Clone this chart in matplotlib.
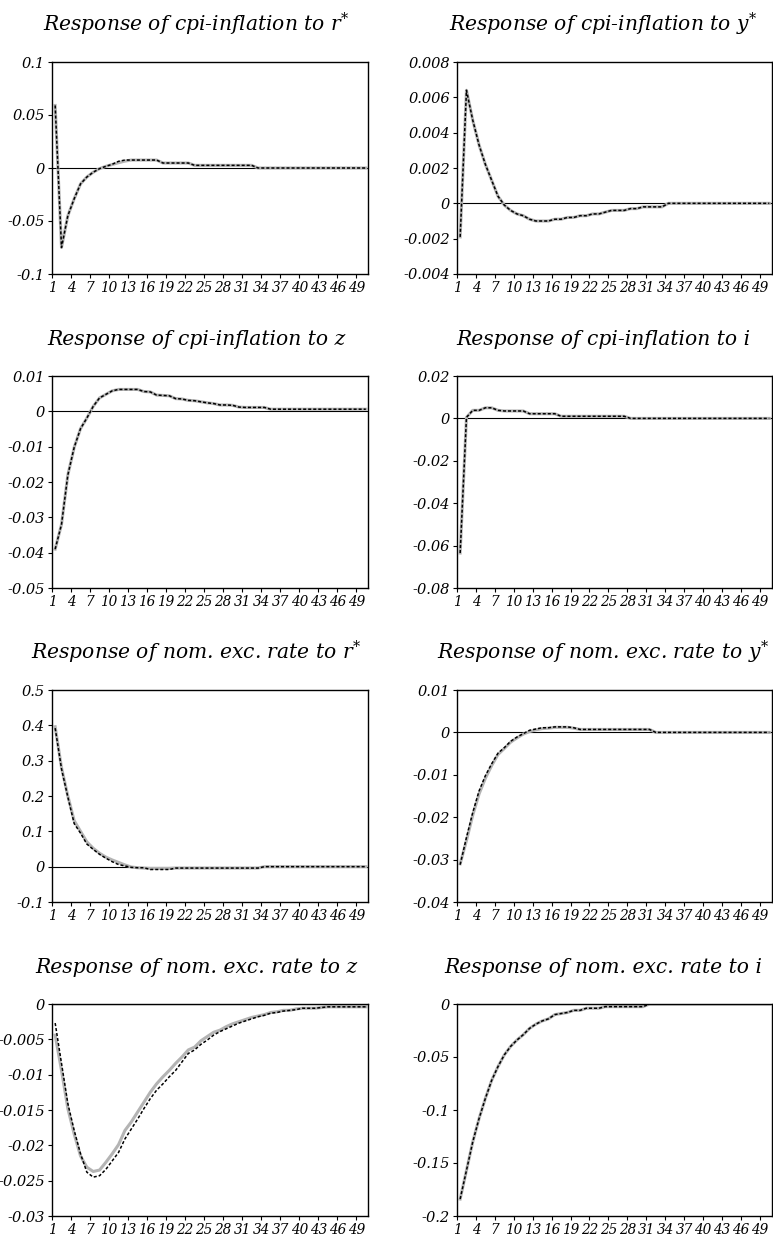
import numpy as np
import matplotlib
matplotlib.use("Agg")
import matplotlib.pyplot as plt

plt.rcParams['font.family'] = ['DejaVu Serif']
plt.rcParams['font.style'] = 'italic'
plt.rcParams['mathtext.fontset'] = 'dejavuserif'
plt.rcParams['axes.unicode_minus'] = False

# horizonte das respostas (50 periodos)
periods = list(range(1, 51))
xtick_labels = [str(p) for p in periods[::3]]

titles = [
    "Response of cpi-inflation to $r^{*}$",
    "Response of cpi-inflation to $y^{*}$",
    "Response of cpi-inflation to z",
    "Response of cpi-inflation to i",
    "Response of nom. exc. rate to $r^{*}$",
    "Response of nom. exc. rate to $y^{*}$",
    "Response of nom. exc. rate to z",
    "Response of nom. exc. rate to i",
]

# cpi-inflation
cpi_rstar = [0.059, -0.075, -0.045, -0.029, -0.015, -0.0085, -0.004, -0.0006, 0.0016, 0.0035,
             0.0063, 0.0075, 0.0075, 0.0075, 0.0075, 0.0075, 0.0075, 0.0047, 0.0047, 0.0047,
             0.0047, 0.0047, 0.0025, 0.0025, 0.0025, 0.0025, 0.0025, 0.0025, 0.0025, 0.0025,
             0.0025, 0.0025, 0.0, 0.0, 0.0, 0.0, 0.0, 0.0, 0.0, 0.0,
             0.0, 0.0, 0.0, 0.0, 0.0, 0.0, 0.0, 0.0, 0.0, 0.0]
cpi_rstar_gray = [0.059, -0.075, -0.045, -0.029, -0.015, -0.0085, -0.004, -0.0006, 0.0016, 0.0033,
                  0.005, 0.0065, 0.0075, 0.0075, 0.0075, 0.0075, 0.0075, 0.0047, 0.0047, 0.0047,
                  0.0047, 0.0047, 0.0025, 0.0025, 0.0025, 0.0025, 0.0025, 0.0025, 0.0025, 0.0025,
                  0.0025, 0.0025, 0.0, 0.0, 0.0, 0.0, 0.0, 0.0, 0.0, 0.0,
                  0.0, 0.0, 0.0, 0.0, 0.0, 0.0, 0.0, 0.0, 0.0, 0.0]
cpi_ystar = [-0.0019, 0.0064, 0.0047, 0.0033, 0.0022, 0.0013, 0.0004, -0.0001, -0.0004, -0.0006,
             -0.0007, -0.0009, -0.0010, -0.0010, -0.0010, -0.0009, -0.0009, -0.0008, -0.0008, -0.0007,
             -0.0007, -0.0006, -0.0006, -0.0005, -0.0004, -0.0004, -0.0004, -0.0003, -0.0003, -0.0002,
             -0.0002, -0.0002, -0.0002, 0.0, 0.0, 0.0, 0.0, 0.0, 0.0, 0.0,
             0.0, 0.0, 0.0, 0.0, 0.0, 0.0, 0.0, 0.0, 0.0, 0.0]
cpi_z = [-0.039, -0.032, -0.018, -0.0102, -0.0049, -0.0019, 0.0014, 0.0038, 0.0048, 0.0058,
         0.0062, 0.0062, 0.0062, 0.0062, 0.0056, 0.0055, 0.0046, 0.0045, 0.0044, 0.0036,
         0.0035, 0.0031, 0.0030, 0.0027, 0.0024, 0.0022, 0.0018, 0.0018, 0.0017, 0.0012,
         0.0011, 0.0011, 0.0011, 0.0011, 0.0006, 0.0006, 0.0006, 0.0006, 0.0006, 0.0006,
         0.0006, 0.0006, 0.0006, 0.0006, 0.0006, 0.0006, 0.0006, 0.0006, 0.0006, 0.0006]
cpi_i = [-0.0635, 0.0005, 0.0038, 0.0038, 0.005, 0.005, 0.0038, 0.0035, 0.0035, 0.0035,
         0.0035, 0.0022, 0.0022, 0.0022, 0.0022, 0.0022, 0.001, 0.001, 0.001, 0.001,
         0.001, 0.001, 0.001, 0.001, 0.001, 0.001, 0.001, 0.0, 0.0, 0.0,
         0.0, 0.0, 0.0, 0.0, 0.0, 0.0, 0.0, 0.0, 0.0, 0.0,
         0.0, 0.0, 0.0, 0.0, 0.0, 0.0, 0.0, 0.0, 0.0, 0.0]

# taxa de cambio nominal
exr_rstar = [0.392, 0.277, 0.197, 0.122, 0.095, 0.064, 0.049, 0.035, 0.024, 0.014,
             0.006, 0.002, -0.002, -0.003, -0.003, -0.008, -0.008, -0.008, -0.008, -0.004,
             -0.004, -0.004, -0.004, -0.004, -0.004, -0.004, -0.004, -0.004, -0.004, -0.004,
             -0.004, -0.004, -0.004, 0.0, 0.0, 0.0, 0.0, 0.0, 0.0, 0.0,
             0.0, 0.0, 0.0, 0.0, 0.0, 0.0, 0.0, 0.0, 0.0, 0.0]
exr_rstar_gray = [0.396, 0.280, 0.200, 0.130, 0.100, 0.070, 0.052, 0.038, 0.027, 0.019,
                  0.012, 0.005, -0.001, -0.003, -0.004, -0.005, -0.005, -0.005, -0.005, -0.004,
                  -0.004, -0.004, -0.004, -0.004, -0.004, -0.004, -0.004, -0.004, -0.004, -0.004,
                  -0.004, -0.004, -0.004, 0.0, 0.0, 0.0, 0.0, 0.0, 0.0, 0.0,
                  0.0, 0.0, 0.0, 0.0, 0.0, 0.0, 0.0, 0.0, 0.0, 0.0]
exr_ystar = [-0.0312, -0.0248, -0.0189, -0.0138, -0.0102, -0.0074, -0.0049, -0.0036, -0.0021, -0.0011,
             -0.0003, 0.0005, 0.0008, 0.0011, 0.0011, 0.0013, 0.0013, 0.0013, 0.0011, 0.0007,
             0.0007, 0.0007, 0.0007, 0.0007, 0.0007, 0.0007, 0.0007, 0.0007, 0.0007, 0.0007,
             0.0007, 0.0, 0.0, 0.0, 0.0, 0.0, 0.0, 0.0, 0.0, 0.0,
             0.0, 0.0, 0.0, 0.0, 0.0, 0.0, 0.0, 0.0, 0.0, 0.0]
exr_ystar_gray = [-0.0310, -0.0255, -0.0195, -0.0145, -0.0108, -0.0078, -0.0052, -0.0038, -0.0023, -0.0013,
                  -0.0004, 0.0002, 0.0006, 0.0009, 0.0010, 0.0012, 0.0012, 0.0012, 0.0010, 0.0007,
                  0.0007, 0.0007, 0.0007, 0.0007, 0.0007, 0.0007, 0.0007, 0.0007, 0.0007, 0.0007,
                  0.0007, 0.0, 0.0, 0.0, 0.0, 0.0, 0.0, 0.0, 0.0, 0.0,
                  0.0, 0.0, 0.0, 0.0, 0.0, 0.0, 0.0, 0.0, 0.0, 0.0]
exr_z = [-0.0027, -0.0084, -0.0141, -0.0179, -0.0212, -0.0238, -0.0245, -0.0243, -0.0234, -0.0222,
         -0.0210, -0.0191, -0.0177, -0.0163, -0.0148, -0.0134, -0.0122, -0.0113, -0.0103, -0.0094,
         -0.0082, -0.0070, -0.0065, -0.0057, -0.0051, -0.0044, -0.0039, -0.0035, -0.0031, -0.0027,
         -0.0024, -0.0021, -0.0018, -0.0016, -0.0013, -0.0012, -0.0010, -0.0009, -0.0008, -0.0006,
         -0.0006, -0.0006, -0.0005, -0.0004, -0.0004, -0.0004, -0.0004, -0.0004, -0.0004, -0.0004]
exr_z_gray = [-0.0044, -0.0094, -0.0148, -0.0184, -0.0215, -0.0231, -0.0237, -0.0235, -0.0224, -0.0212,
              -0.0199, -0.0179, -0.0167, -0.0153, -0.0139, -0.0125, -0.0113, -0.0103, -0.0094, -0.0084,
              -0.0075, -0.0065, -0.0061, -0.0052, -0.0046, -0.0040, -0.0037, -0.0032, -0.0028, -0.0025,
              -0.0022, -0.0019, -0.0017, -0.0015, -0.0012, -0.0011, -0.0009, -0.0009, -0.0007, -0.0006,
              -0.0006, -0.0006, -0.0005, -0.0004, -0.0004, -0.0004, -0.0004, -0.0004, -0.0004, -0.0004]
exr_i = [-0.184, -0.157, -0.130, -0.108, -0.089, -0.072, -0.059, -0.048, -0.040, -0.034,
         -0.029, -0.023, -0.019, -0.016, -0.014, -0.010, -0.009, -0.008, -0.006, -0.006,
         -0.004, -0.004, -0.004, -0.0025, -0.0025, -0.0025, -0.0025, -0.0025, -0.0025, -0.0025,
         0.0, 0.0, 0.0, 0.0, 0.0, 0.0, 0.0, 0.0, 0.0, 0.0,
         0.0, 0.0, 0.0, 0.0, 0.0, 0.0, 0.0, 0.0, 0.0, 0.0]

dotted_series = [cpi_rstar, cpi_ystar, cpi_z, cpi_i, exr_rstar, exr_ystar, exr_z, exr_i]
gray_series = [cpi_rstar_gray, cpi_ystar, cpi_z, cpi_i, exr_rstar_gray, exr_ystar_gray, exr_z_gray, exr_i]

yticks = [
    [-0.1, -0.05, 0, 0.05, 0.1],
    [-0.004, -0.002, 0, 0.002, 0.004, 0.006, 0.008],
    [-0.05, -0.04, -0.03, -0.02, -0.01, 0, 0.01],
    [-0.08, -0.06, -0.04, -0.02, 0, 0.02],
    [-0.1, 0, 0.1, 0.2, 0.3, 0.4, 0.5],
    [-0.04, -0.03, -0.02, -0.01, 0, 0.01],
    [-0.03, -0.025, -0.02, -0.015, -0.01, -0.005, 0],
    [-0.2, -0.15, -0.1, -0.05, 0],
]
ytick_labels = [
    ["-0.1", "-0.05", "0", "0.05", "0.1"],
    ["-0.004", "-0.002", "0", "0.002", "0.004", "0.006", "0.008"],
    ["-0.05", "-0.04", "-0.03", "-0.02", "-0.01", "0", "0.01"],
    ["-0.08", "-0.06", "-0.04", "-0.02", "0", "0.02"],
    ["-0.1", "0", "0.1", "0.2", "0.3", "0.4", "0.5"],
    ["-0.04", "-0.03", "-0.02", "-0.01", "0", "0.01"],
    ["-0.03", "-0.025", "-0.02", "-0.015", "-0.01", "-0.005", "0"],
    ["-0.2", "-0.15", "-0.1", "-0.05", "0"],
]

W, H = 773, 1239
fig = plt.figure(figsize=(W / 100, H / 100), dpi=100)

col_left = [52, 457]
col_width = [316, 314.5]
row_top = [62, 376, 690, 1004]
ax_h = 212
title_x = [196, 603]
title_base = [32, 345, 660, 973]

for k in range(8):
    r, c = divmod(k, 2)
    ax = fig.add_axes([col_left[c] / W, 1 - (row_top[r] + ax_h) / H,
                       col_width[c] / W, ax_h / H])
    ax.plot(periods, gray_series[k], color='#b4b4b4', lw=2.2, solid_joinstyle='round')
    ax.plot(periods, dotted_series[k], color='black', lw=1.1, ls=(0, (2.0, 1.3)))
    ax.axhline(0, color='black', lw=0.8, zorder=1)

    ax.set_xlim(0.5, 50.35)
    ax.set_ylim(yticks[k][0], yticks[k][-1])
    ax.set_xticks(np.array(periods[::3]) - 0.5)
    ax.set_xticklabels(xtick_labels, fontstyle='italic', fontsize=9.8)
    ax.set_yticks(yticks[k])
    ax.set_yticklabels(ytick_labels[k], fontstyle='italic', fontsize=10.5)
    ax.tick_params(direction='out', length=3, width=0.8, pad=2)
    for s in ax.spines.values():
        s.set_linewidth(1.0)

    fig.text(title_x[c] / W, 1 - title_base[r] / H, titles[k], ha='center',
             va='baseline', fontsize=14.6, fontstyle='italic')

fig.savefig("out.png", dpi=100)
